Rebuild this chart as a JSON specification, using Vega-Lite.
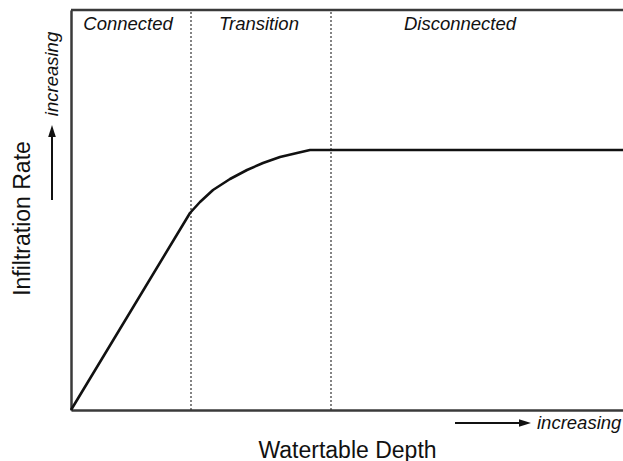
{
  "$schema": "https://vega.github.io/schema/vega-lite/v6.json",
  "width": 552,
  "height": 400,
  "autosize": "none",
  "padding": {"left": 71, "top": 10, "right": 0, "bottom": 51},
  "background": "white",
  "config": {
    "view": {"stroke": null},
    "font": "Liberation Sans",
    "axis": {
      "domainColor": "#3a3a3a",
      "domainWidth": 2.5,
      "ticks": false,
      "labels": false,
      "grid": false,
      "titleFont": "Liberation Sans",
      "titleFontSize": 23,
      "titleFontWeight": "normal",
      "titleColor": "#111"
    }
  },
  "datasets": {
    "curve": [
      {"depth": 0, "rate": 0},
      {"depth": 119, "rate": 197},
      {"depth": 129, "rate": 208},
      {"depth": 142, "rate": 220},
      {"depth": 159, "rate": 231},
      {"depth": 176, "rate": 240},
      {"depth": 192, "rate": 247},
      {"depth": 209, "rate": 253},
      {"depth": 226, "rate": 257},
      {"depth": 239, "rate": 260},
      {"depth": 260, "rate": 260},
      {"depth": 552, "rate": 260}
    ],
    "zones": [
      {"boundary": 120},
      {"boundary": 260}
    ],
    "labels": [
      {"label": "Connected", "depth": 57, "rate": 386},
      {"label": "Transition", "depth": 188, "rate": 386},
      {"label": "Disconnected", "depth": 389, "rate": 386}
    ]
  },
  "encoding": {
    "x": {
      "type": "quantitative",
      "scale": {"domain": [0, 552], "nice": false, "zero": false},
      "axis": {"title": "Watertable Depth", "titleY": 47, "titleBaseline": "alphabetic"}
    },
    "y": {
      "type": "quantitative",
      "scale": {"domain": [0, 400], "nice": false, "zero": false},
      "axis": {"title": "Infiltration Rate", "titleX": -49, "titleY": 208, "titleBaseline": "middle", "titleAlign": "center", "titleAngle": -90}
    }
  },
  "layer": [
    {
      "data": {"values": [{"from": 0, "to": 552, "top": 400}]},
      "mark": {"type": "rule", "color": "#3a3a3a", "strokeWidth": 2.5},
      "encoding": {
        "x": {"field": "from"},
        "x2": {"field": "to"},
        "y": {"field": "top"}
      }
    },
    {
      "data": {"name": "zones"},
      "mark": {"type": "rule", "color": "#333", "strokeWidth": 1.2, "strokeDash": [2, 2]},
      "encoding": {
        "x": {"field": "boundary"},
        "y": {"datum": 0},
        "y2": {"datum": 400}
      }
    },
    {
      "data": {"name": "curve"},
      "mark": {"type": "line", "color": "#111", "strokeWidth": 2.6, "interpolate": "linear", "strokeJoin": "round"},
      "encoding": {
        "x": {"field": "depth"},
        "y": {"field": "rate"}
      }
    },
    {
      "data": {"name": "labels"},
      "mark": {"type": "text", "fontSize": 18.5, "fontStyle": "italic", "color": "#111", "align": "center", "baseline": "middle"},
      "encoding": {
        "x": {"field": "depth"},
        "y": {"field": "rate"},
        "text": {"field": "label"}
      }
    },
    {
      "data": {"values": [
        {"ax": -19, "ax2": -19, "ay": 210, "ay2": 274},
        {"ax": 384, "ax2": 450, "ay": -13, "ay2": -13}
      ]},
      "mark": {"type": "rule", "color": "#111", "strokeWidth": 2},
      "encoding": {
        "x": {"field": "ax"},
        "x2": {"field": "ax2"},
        "y": {"field": "ay"},
        "y2": {"field": "ay2"}
      }
    },
    {
      "data": {"values": [
        {"hx": -19, "hy": 279, "dir": 0},
        {"hx": 454, "hy": -13, "dir": 90}
      ]},
      "mark": {"type": "point", "shape": "M-0.38,0.6L0,-0.6L0.38,0.6Z", "size": 400, "filled": true, "color": "#111", "opacity": 1},
      "encoding": {
        "x": {"field": "hx"},
        "y": {"field": "hy"},
        "angle": {"field": "dir", "type": "quantitative", "scale": null}
      }
    },
    {
      "data": {"values": [{"word": "increasing", "px": -19, "py": 336}]},
      "mark": {"type": "text", "fontSize": 18.5, "fontStyle": "italic", "color": "#111", "align": "center", "baseline": "middle", "angle": 270},
      "encoding": {
        "x": {"field": "px"},
        "y": {"field": "py"},
        "text": {"field": "word"}
      }
    },
    {
      "data": {"values": [{"word": "increasing", "px": 466, "py": -13}]},
      "mark": {"type": "text", "fontSize": 18.5, "fontStyle": "italic", "color": "#111", "align": "left", "baseline": "middle"},
      "encoding": {
        "x": {"field": "px"},
        "y": {"field": "py"},
        "text": {"field": "word"}
      }
    }
  ]
}
